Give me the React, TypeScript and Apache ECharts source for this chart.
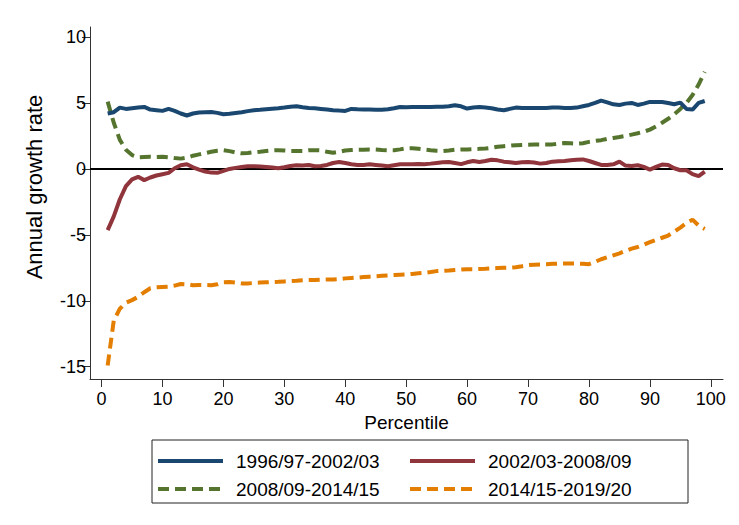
import React, { useEffect, useRef } from "react";
import * as echarts from "echarts";

const percentiles: number[] = Array.from({ length: 99 }, (_, i) => i + 1);

const seriesNames = ["1996/97-2002/03", "2002/03-2008/09", "2008/09-2014/15", "2014/15-2019/20"];
const seriesColors = ["#1a476f", "#90353b", "#55752f", "#e37e00"];
const seriesDashed = [false, false, true, true];

const blue96: number[] = [
  4.2, 4.3, 4.65, 4.55, 4.6, 4.65, 4.7, 4.5, 4.45, 4.4,
  4.55, 4.4, 4.2, 4.05, 4.2, 4.28, 4.3, 4.32, 4.25, 4.15,
  4.18, 4.24, 4.3, 4.38, 4.45, 4.48, 4.52, 4.56, 4.6, 4.65,
  4.72, 4.75, 4.68, 4.62, 4.6, 4.55, 4.5, 4.45, 4.42, 4.4,
  4.55, 4.52, 4.5, 4.5, 4.48, 4.48, 4.52, 4.6, 4.7, 4.68,
  4.7, 4.7, 4.7, 4.7, 4.72, 4.72, 4.75, 4.82, 4.75, 4.58,
  4.65, 4.7, 4.65, 4.6, 4.5, 4.45, 4.55, 4.65, 4.62, 4.62,
  4.62, 4.62, 4.62, 4.65, 4.65, 4.62, 4.62, 4.65, 4.75, 4.85,
  5.0, 5.18, 5.05, 4.9, 4.85, 4.95, 5.0, 4.85, 4.95, 5.08,
  5.08, 5.08, 5.0, 4.9, 5.03, 4.55, 4.5, 5.0, 5.15,
];

const red02: number[] = [
  -4.64, -3.6, -2.3, -1.3, -0.8, -0.6, -0.85, -0.65, -0.5, -0.4,
  -0.3, 0.05, 0.28, 0.36, 0.12, -0.05, -0.2, -0.28, -0.3, -0.15,
  0.0, 0.08, 0.15, 0.2, 0.2, 0.18, 0.15, 0.1, 0.05, 0.12,
  0.22, 0.28, 0.25, 0.3, 0.2, 0.22, 0.3, 0.45, 0.53, 0.45,
  0.35, 0.3, 0.3, 0.35, 0.3, 0.25, 0.2, 0.28, 0.35, 0.36,
  0.35, 0.38, 0.36, 0.4, 0.45, 0.5, 0.53, 0.45, 0.36, 0.5,
  0.6, 0.53, 0.6, 0.7, 0.65, 0.55, 0.5, 0.45, 0.5, 0.53,
  0.48, 0.4, 0.45, 0.55, 0.58, 0.6, 0.65, 0.7, 0.72, 0.6,
  0.45, 0.3, 0.3, 0.35, 0.55, 0.25, 0.22, 0.28, 0.15, -0.05,
  0.15, 0.33, 0.3, 0.05, -0.1, -0.1, -0.4, -0.55, -0.2,
];

const green08: number[] = [
  5.1, 3.5, 2.2, 1.45, 1.05, 0.88, 0.9, 0.92, 0.9, 0.92,
  0.88, 0.82, 0.78, 0.85, 1.0, 1.1, 1.2, 1.3, 1.38, 1.42,
  1.35, 1.25, 1.18, 1.2, 1.26, 1.3, 1.35, 1.4, 1.42, 1.4,
  1.36, 1.36, 1.36, 1.42, 1.42, 1.4, 1.3, 1.22, 1.3, 1.4,
  1.43, 1.45, 1.45, 1.47, 1.47, 1.44, 1.42, 1.42, 1.48, 1.55,
  1.57, 1.52, 1.47, 1.42, 1.38, 1.36, 1.4, 1.45, 1.47, 1.48,
  1.5, 1.52, 1.55, 1.6, 1.68, 1.72, 1.76, 1.8, 1.82, 1.84,
  1.85, 1.85, 1.85, 1.86, 1.92, 1.96, 1.94, 1.92, 1.95, 2.05,
  2.12, 2.18, 2.28, 2.35, 2.42, 2.5, 2.6, 2.7, 2.82, 2.98,
  3.22, 3.5, 3.8, 4.15, 4.55, 5.0, 5.6, 6.4, 7.35,
];

const orange14: number[] = [
  -14.9, -11.5, -10.6, -10.15, -9.95, -9.7, -9.35, -9.05, -8.98, -8.95,
  -8.93, -8.85, -8.73, -8.75, -8.82, -8.8, -8.8, -8.82, -8.75, -8.6,
  -8.58, -8.62, -8.68, -8.68, -8.65, -8.62, -8.6, -8.58, -8.56, -8.53,
  -8.5, -8.48, -8.45, -8.43, -8.42, -8.4, -8.39, -8.38, -8.35, -8.3,
  -8.27, -8.24, -8.2, -8.17, -8.14, -8.11, -8.08, -8.05, -8.02, -8.0,
  -7.96, -7.92, -7.88, -7.82, -7.75, -7.72, -7.7, -7.66, -7.63, -7.6,
  -7.6, -7.58, -7.57, -7.55, -7.52, -7.5, -7.48, -7.45, -7.38, -7.3,
  -7.26, -7.24, -7.22, -7.2, -7.18, -7.17, -7.17, -7.18, -7.2, -7.22,
  -7.05, -6.85, -6.7, -6.55, -6.4, -6.22, -6.05, -5.92, -5.75, -5.55,
  -5.38, -5.22, -5.05, -4.75, -4.45, -4.1, -3.85, -4.3, -4.55,
];

const seriesValues = [blue96, red02, green08, orange14];

const xTicks: number[] = [0, 10, 20, 30, 40, 50, 60, 70, 80, 90, 100];
const yTicks: number[] = [-15, -10, -5, 0, 5, 10];

const FONT = "'Liberation Sans', Arial, Helvetica, sans-serif";
const DASH = [11, 6];

export default function App() {
  const ref = useRef<HTMLDivElement>(null);

  useEffect(() => {
    if (!ref.current) return;
    const chart = echarts.init(ref.current, undefined, { renderer: "svg" });
    const pairs = (vals: number[]) => percentiles.map((p, i) => [p, vals[i]]);
    const series: any[] = seriesNames.map((name, k) => ({
      name,
      type: "line",
      data: pairs(seriesValues[k]),
      showSymbol: false,
      symbol: "none",
      z: 4 - k,
      lineStyle: {
        color: seriesColors[k],
        width: 4,
        type: seriesDashed[k] ? DASH : "solid",
        cap: "butt",
      },
      itemStyle: { color: seriesColors[k] },
    }));
    series[0].markLine = {
      silent: true,
      symbol: "none",
      label: { show: false },
      lineStyle: { color: "#000", width: 1.8, type: "solid" },
      data: [{ yAxis: 0 }],
      z: 1,
    };

    // legend drawn as graphic (2 columns: col 0 = series 0,2; col 1 = series 1,3)
    const legendItems: any[] = [];
    const colX = [158, 410];
    const rowY = [461, 489];
    seriesNames.forEach((name, k) => {
      const col = k % 2;
      const row = Math.floor(k / 2);
      const x0 = colX[col];
      const y0 = rowY[row];
      legendItems.push({
        type: "line",
        shape: { x1: x0, y1: y0, x2: x0 + 65, y2: y0 },
        style: {
          stroke: seriesColors[k],
          lineWidth: 4,
          lineDash: seriesDashed[k] ? DASH : null,
        },
        silent: true,
      });
      legendItems.push({
        type: "text",
        x: x0 + 78,
        y: y0,
        style: {
          text: name,
          font: `19px ${FONT}`,
          fill: "#000",
          align: "left",
          verticalAlign: "middle",
        },
        silent: true,
      });
    });

    chart.setOption({
      animation: false,
      textStyle: { fontFamily: FONT },
      grid: { left: 90, right: 16, top: 27, bottom: 146, containLabel: false },
      xAxis: {
        type: "value",
        min: -1.9,
        max: 102,
        name: "Percentile",
        nameLocation: "middle",
        nameGap: 33,
        nameTextStyle: { fontFamily: FONT, fontSize: 19, color: "#000" },
        axisLine: { show: true, onZero: false, lineStyle: { color: "#333", width: 1 } },
        axisTick: { show: true, length: 8, customValues: xTicks, lineStyle: { color: "#333" } },
        axisLabel: { customValues: xTicks, fontFamily: FONT, fontSize: 18, color: "#000", margin: 11 },
        splitLine: { show: false },
      },
      yAxis: {
        type: "value",
        min: -15.93,
        max: 10.76,
        axisLine: { show: true, onZero: false, lineStyle: { color: "#333", width: 1 } },
        axisTick: { show: true, length: 8, customValues: yTicks, lineStyle: { color: "#333" } },
        axisLabel: { customValues: yTicks, fontFamily: FONT, fontSize: 18, color: "#000", margin: 4 },
        splitLine: { show: false },
      },
      graphic: [
        {
          type: "rect",
          shape: { x: 152, y: 440, width: 536, height: 63 },
          style: { fill: "none", stroke: "#222", lineWidth: 1 },
          silent: true,
        },
        ...legendItems,
        {
          type: "text",
          x: 34,
          y: 187,
          rotation: Math.PI / 2,
          style: {
            text: "Annual growth rate",
            font: `22px ${FONT}`,
            fill: "#000",
            align: "center",
            verticalAlign: "middle",
          },
          silent: true,
        },
      ],
      series,
    });
    return () => chart.dispose();
  }, []);

  return <div ref={ref} style={{ width: 739, height: 525, margin: -8 }} />;
}
